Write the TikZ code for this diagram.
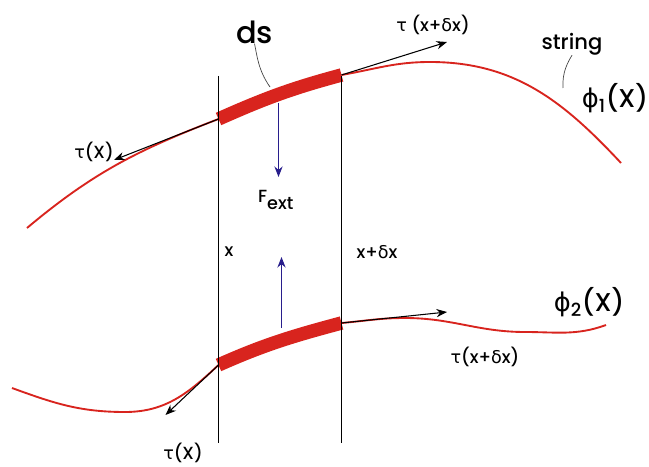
\documentclass[tikz,border=0pt]{standalone}
\usepackage{fontspec}
\IfFontExistsTF{Poppins Medium}{\setmainfont{Poppins Medium}}{\setmainfont{Poppins}}
\newfontfamily\grk{DejaVu Sans}
\usetikzlibrary{arrows.meta}
\definecolor{strred}{RGB}{216,36,30}
\definecolor{forceblue}{RGB}{40,30,140}
\definecolor{leadgray}{RGB}{70,70,70}
\newcommand{\gr}[1]{{\grk #1}}
\tikzset{
  strline/.style={strred, line width=1.6pt},
  elem/.style={strred, line width=11.5pt},
  tauarrow/.style={black, line width=0.9pt, -{Stealth[length=9pt,width=7pt]}},
  fext/.style={forceblue, line width=1pt, -{Stealth[length=9pt,width=7pt]}},
  cut/.style={black, line width=0.8pt},
  leader/.style={leadgray, line width=0.6pt},
  lbl/.style={inner sep=0pt, font=\fontsize{15}{18}\selectfont},
  biglbl/.style={inner sep=0pt, font=\fontsize{22}{26}\selectfont},
}
\begin{document}
\begin{tikzpicture}[x=0.03cm, y=0.03cm]
\useasboundingbox (0,0) rectangle (649,466);
% points on the cuts
\coordinate (a1) at (218.5,347);
\coordinate (b1) at (341.5,391);
\coordinate (a2) at (218.5,101);
\coordinate (b2) at (341.5,143);
% upper string phi_1
\draw[strline] (27,238) to[out=40,in=201] (a1);
\draw[strline] (b1) to[out=10,in=180] (430,404) to[out=0,in=133] (621,303);
\draw[elem] (a1) to[out=24,in=195] (b1);
% lower string phi_2
\draw[strline] (12,78) to[out=-20,in=180] (125,54) to[out=0,in=223] (a2);
\draw[strline] (b2) to[out=5,in=180] (405,148) to[out=0,in=180] (525,134) to[out=0,in=200] (606,141);
\draw[elem] (a2) to[out=24,in=195] (b2);
% cuts at x and x+dx
\coordinate (xtop) at (218.5,390);
\coordinate (xbot) at (218.5,23);
\coordinate (dxtop) at (341.5,390);
\coordinate (dxbot) at (341.5,23);
\draw[cut] (xtop) -- (xbot);
\draw[cut] (dxtop) -- (dxbot);
% tensions
\coordinate (t1l) at (114,306);
\coordinate (t1r) at (447,424);
\coordinate (t2l) at (165.5,51);
\coordinate (t2r) at (447,154);
\draw[tauarrow] (a1) -- (t1l);
\draw[tauarrow] (b1) -- (t1r);
\draw[tauarrow] (a2) -- (t2l);
\draw[tauarrow] (b2) -- (t2r);
% external force
\coordinate (f1s) at (278.5,363);
\coordinate (f1e) at (278.5,289);
\coordinate (f2s) at (281.5,138);
\coordinate (f2e) at (281.5,209);
\draw[fext] (f1s) -- (f1e);
\draw[fext] (f2s) -- (f2e);
% labels
\node[biglbl] (ds) at (254.5,434) {\fontsize{26}{30}\selectfont ds};
\node[lbl] (string) at (572,422) {\fontsize{18}{20}\selectfont string};
\node[biglbl] (phi1) at (615,368) {\gr{ϕ}\textsubscript{1}(X)};
\node[biglbl] (phi2) at (589,164) {\gr{ϕ}\textsubscript{2}(X)};
\node[lbl] (tau1l) at (94,314) {\gr{τ}(X)};
\node[lbl] (tau1r) at (433,441) {\gr{τ} (x+\gr{δ}x)};
\node[lbl] (tau2l) at (183,13) {\gr{τ}(X)};
\node[lbl] (tau2r) at (485,109) {\gr{τ}(x+\gr{δ}x)};
\node[lbl] (F) at (276,266) {F\textsubscript{\fontsize{15}{18}\selectfont ext}};
\node[lbl] (xl) at (229,214) {x};
\node[lbl] (xdl) at (377,214) {x+\gr{δ}x};
% leaders
\coordinate (dsl) at (270,379);
\coordinate (stl) at (563,378);
\draw[leader] (dsl) .. controls (258,396) and (257,411) .. (ds.south);
\draw[leader] (stl) .. controls (562,394) and (568,404) .. (string.south);
\end{tikzpicture}
\end{document}
